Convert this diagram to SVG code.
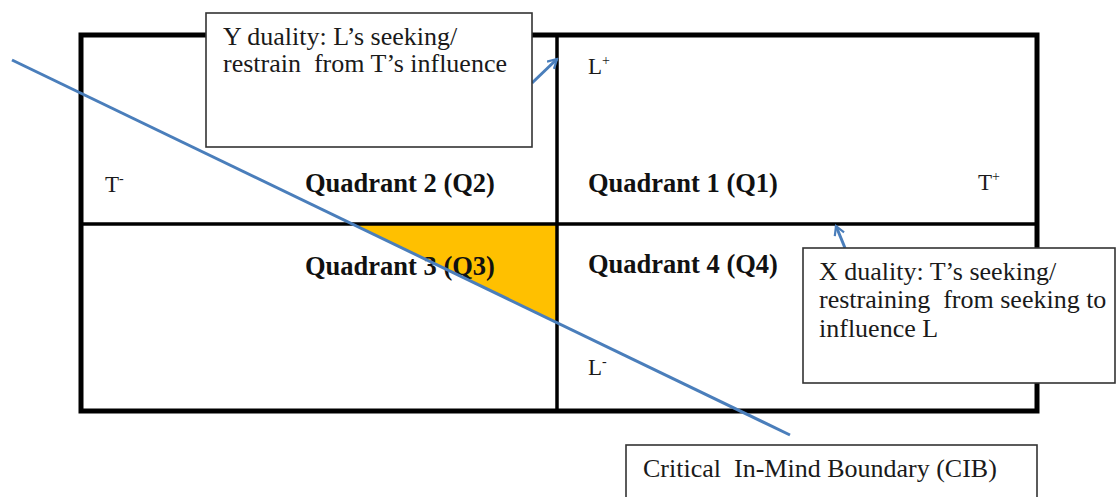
<svg xmlns="http://www.w3.org/2000/svg" width="1117" height="497" viewBox="0 0 1117 497">
<style>
.t{font-family:"Liberation Serif","Times New Roman",serif;font-size:26px;fill:#1a1a1a}
.q{font-family:"Liberation Serif","Times New Roman",serif;font-size:26.5px;font-weight:bold;fill:#111}
.s{font-family:"Liberation Serif","Times New Roman",serif;font-size:23px;fill:#1a1a1a}
.sup{font-size:14px}
.box{fill:#fff;stroke:#333;stroke-width:1.6}
.blue{stroke:#4A7EBB;stroke-width:3;fill:none}
</style>
<defs>
<marker id="ah" viewBox="0 0 12 12" refX="10" refY="6" markerWidth="12" markerHeight="12" markerUnits="userSpaceOnUse" orient="auto">
<path d="M1,1 L10,6 L1,11" fill="none" stroke="#4A7EBB" stroke-width="2.2"/>
</marker>
</defs>
<g id="grid">
<polygon points="352,224 557,224 557,322" fill="#FFC000"/>
<rect x="81" y="35" width="956" height="376" fill="none" stroke="#000" stroke-width="5"/>
<line x1="81" y1="224" x2="1037" y2="224" stroke="#000" stroke-width="3.5"/>
<line x1="557" y1="35" x2="557" y2="411" stroke="#000" stroke-width="3.5"/>
</g>
<g id="labels">
<text class="s" x="105" y="192">T<tspan class="sup" dy="-9">-</tspan></text>
<text class="q" x="305" y="192">Quadrant 2 (Q2)</text>
<text class="q" x="588" y="192">Quadrant 1 (Q1)</text>
<text class="s" x="978" y="190">T<tspan class="sup" dy="-9">+</tspan></text>
<text class="s" x="588" y="74">L<tspan class="sup" dy="-9">+</tspan></text>
<text class="q" x="305" y="275">Quadrant 3 (Q3)</text>
<text class="q" x="588" y="273">Quadrant 4 (Q4)</text>
<text class="s" x="588" y="375">L<tspan class="sup" dy="-9">-</tspan></text>
</g>
<g id="connectors">
<line class="blue" x1="12" y1="60" x2="790" y2="435"/>
<line class="blue" x1="532" y1="83" x2="557" y2="59" marker-end="url(#ah)"/>
<line class="blue" x1="845" y1="248" x2="836" y2="226" marker-end="url(#ah)"/>
</g>
<g id="y-duality">
<rect class="box" x="206" y="13" width="326" height="134"/>
<text class="t" x="223" y="45">Y duality: L’s seeking/</text>
<text class="t" x="223" y="72" xml:space="preserve">restrain  from T’s influence</text>
</g>
<g id="x-duality">
<rect class="box" x="803" y="248" width="312" height="135"/>
<text class="t" x="819" y="280">X duality: T’s seeking/</text>
<text class="t" x="819" y="308" xml:space="preserve">restraining  from seeking to</text>
<text class="t" x="819" y="337">influence L</text>
</g>
<g id="cib">
<rect class="box" x="626" y="445" width="411" height="60"/>
<text class="t" x="643" y="477" xml:space="preserve">Critical  In-Mind Boundary (CIB)</text>
</g>
</svg>
